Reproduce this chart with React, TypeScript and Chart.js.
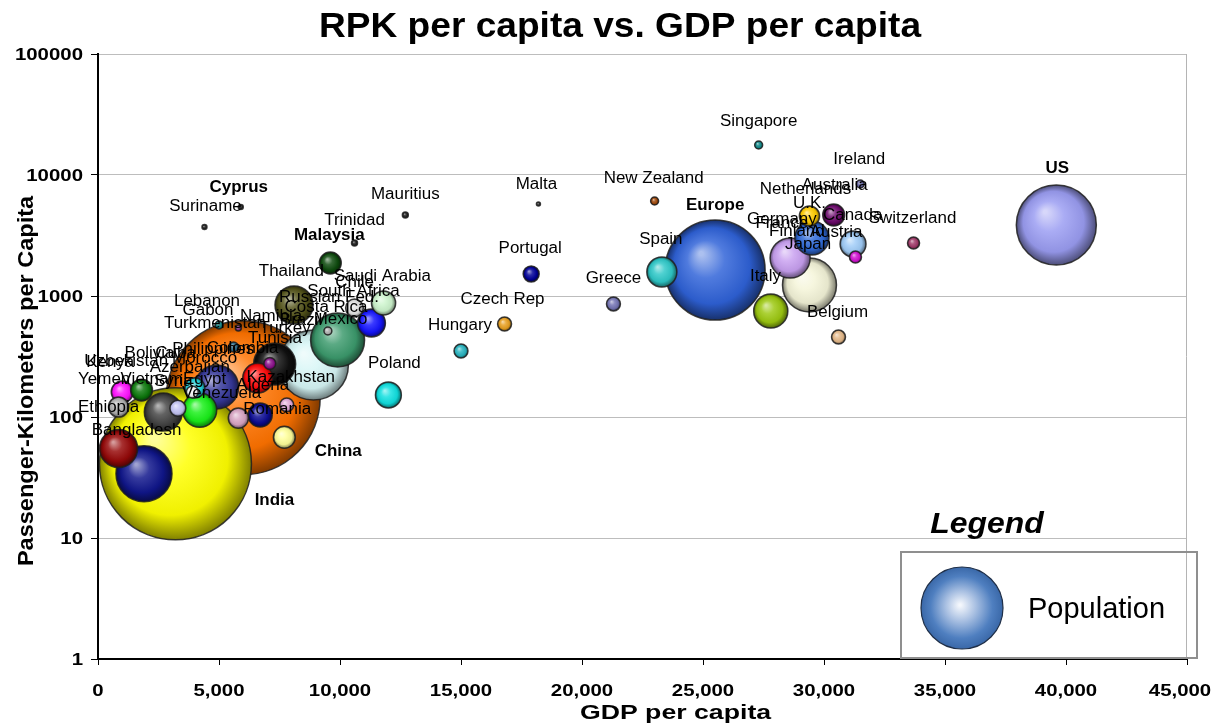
import React, { useEffect, useRef } from 'react';
import { Chart, registerables } from 'chart.js';

Chart.register(...registerables);

// Countries / regions, ordered from largest to smallest population so the
// small bubbles are drawn on top of the big ones.
const COUNTRIES = [
  'China', 'India', 'Europe', 'US', 'Iran', 'Pakistan', 'Mexico', 'Italy', 'Egypt', 'Colombia',
  'Japan', 'Bangladesh', 'Russian Fed.', 'Vietnam', 'Indonesia', 'Korea', 'Germany', 'Kazakhstan', 'Spain', 'Argentina',
  'Poland', 'Austria', 'Romania', 'South Africa', 'Malaysia', 'Yemen', 'Kenya', 'Canada', 'Ukraine', 'U.K.',
  'Peru', 'Morocco', 'Ethiopia', 'Chile', 'Syria', 'Portugal', 'Greece', 'Czech Rep', 'Hungary', 'Belgium',
  'Jordan', 'Sweden', 'Switzerland', 'Ecuador', 'Sri Lanka', 'Tunisia', 'New Zealand', 'Singapore', 'Ireland', 'Costa Rica',
  'Turkmenistan', 'Namibia', 'Mauritius', 'Trinidad', 'Cyprus', 'Suriname', 'Malta',
];

// GDP per capita (x)
const GDP_PER_CAPITA = [
  6000, 3200, 25500, 39600, 8900, 1900, 9900, 29400, 4900, 7300,
  28600, 850, 8100, 2700, 4200, 27800, 29500, 6600, 23300, 11300,
  12000, 31200, 6700, 11800, 9600, 1000, 1800, 30400, 7700, 29400,
  5800, 4000, 850, 10600, 3300, 17900, 21300, 16800, 15000, 30600,
  7800, 31300, 33700, 7100, 3900, 5600, 23000, 27300, 31500, 9500,
  5000, 5800, 12700, 10600, 5900, 4400, 18200,
];

// Passenger-kilometers per capita (y, log scale)
const RPK_PER_CAPITA = [
  144, 41, 1640, 3860, 269, 34, 433, 1233, 177, 274,
  2061, 55, 843, 110, 114, 752, 3016, 210, 1579, 598,
  152, 2691, 104, 875, 1875, 161, 167, 4670, 68, 4585,
  98, 174, 121, 796, 118, 1520, 860, 587, 351, 458,
  126, 2100, 2742, 277, 161, 379, 6097, 17700, 8430, 514,
  576, 544, 4670, 2742, 5446, 3718, 5757,
];

// Population in millions (bubble area)
const POPULATION_M = [
  1344, 1310, 567, 363, 278, 178, 165, 165, 110, 100,
  91, 82, 82, 82, 66, 66, 66, 51, 51, 44,
  38, 38, 33, 33, 27, 27, 27, 27, 27, 23,
  23, 23, 23, 18, 14.5, 14.5, 11, 11, 11, 11,
  11, 8.2, 8.2, 8.2, 8.2, 5.7, 3.6, 3.6, 3.6, 3.6,
  3.6, 2.0, 2.0, 2.0, 1.4, 1.4, 0.9,
];

// Fill colour of each bubble
const COLORS = [
  '#ff7300', '#ffff00', '#2f62d8', '#9a9cf2', '#d6f6f6', '#10168c', '#3c9a6c', '#f4f4d8', '#36389a', '#101010',
  '#c8a0f0', '#960808', '#54541a', '#444444', '#18f018', '#9cc810', '#2f6ad8', '#ff0a0a', '#2ec8c8', '#1414ff',
  '#10e0e0', '#a0ccf8', '#0c0c94', '#ccf4cc', '#0d4a0d', '#ff10ff', '#0c780c', '#6c0a6c', '#ffff99', '#ffcc00',
  '#d8a4c4', '#20d0d8', '#b0b0b0', '#e4e4e4', '#c4c4f4', '#000098', '#7474b4', '#e8a020', '#28b4c0', '#e4b888',
  '#e0a8d8', '#d010d0', '#a03868', '#8a108a', '#f4f4f4', '#2a6a88', '#a04808', '#108888', '#6868a8', '#b0b0b0',
  '#108080', '#803080', '#202020', '#202020', '#202020', '#202020', '#303030',
];

const X_TICKS = [0, 5000, 10000, 15000, 20000, 25000, 30000, 35000, 40000, 45000];
const Y_TICKS = [1, 10, 100, 1000, 10000, 100000];

// bubble radius in px = BUBBLE_SCALE * sqrt(population)
const BUBBLE_SCALE = 2.1;

// Data-label layout: [text, bubble it belongs to, dx, dy] (pixel offset from the bubble centre)
const LABEL_LAYOUT: [string, string, number, number][] = [
  ['Singapore', 'Singapore', 0, -23],
  ['Ireland', 'Ireland', -1, -24],
  ['Australia', 'Canada', 1, -29],
  ['Netherlands', 'U.K.', -4, -26],
  ['U.K.', 'U.K.', 0, -12],
  ['Canada', 'Canada', 19, 1],
  ['Switzerland', 'Switzerland', -1, -24],
  ['Germany', 'Germany', -30, -18],
  ['France', 'Germany', -30, -14],
  ['Finland', 'Germany', -15, -6],
  ['Austria', 'Austria', -17, -11],
  ['Japan', 'Japan', 18, -13],
  ['Italy', 'Italy', -44, -8],
  ['Belgium', 'Belgium', -1, -24],
  ['Europe', 'Europe', 0, -64],
  ['US', 'US', 1, -56],
  ['Spain', 'Spain', -1, -32],
  ['Greece', 'Greece', 0, -25],
  ['New Zealand', 'New Zealand', -1, -22],
  ['Malta', 'Malta', -2, -19],
  ['Portugal', 'Portugal', -1, -25],
  ['Czech Rep', 'Czech Rep', -2, -24],
  ['Hungary', 'Hungary', -1, -25],
  ['Poland', 'Poland', 6, -31],
  ['Mauritius', 'Mauritius', 0, -20],
  ['Trinidad', 'Trinidad', 0, -22],
  ['Malaysia', 'Malaysia', -1, -27],
  ['Cyprus', 'Cyprus', -2, -19],
  ['Suriname', 'Suriname', 1, -20],
  ['Thailand', 'Malaysia', -39, 9],
  ['Saudi Arabia', 'Malaysia', 52, 14],
  ['Chile', 'Chile', 0, -25],
  ['South Africa', 'South Africa', -30, -11],
  ['Russian Fed.', 'Russian Fed.', 35, -7],
  ['Costa Rica', 'Russian Fed.', 32, 3],
  ['Mexico', 'Mexico', 3, -20],
  ['Namibia', 'Russian Fed.', -23, 12],
  ['Brazil', 'Russian Fed.', 7, 16],
  ['Turkey', 'Russian Fed.', -9, 24],
  ['Tunisia', 'Russian Fed.', -19, 34],
  ['Colombia', 'Colombia', -32, -15],
  ['Philippines', 'China', -30, -48],
  ['Lebanon', 'Turkmenistan', -12, -23],
  ['Gabon', 'Turkmenistan', -11, -14],
  ['Turkmenistan', 'Turkmenistan', -4, -1],
  ['Kazakhstan', 'Kazakhstan', 33, 0],
  ['Algeria', 'Kazakhstan', 5, 8],
  ['Venezuela', 'Egypt', 5, 7],
  ['Romania', 'Romania', 17, -5],
  ['Morocco', 'Egypt', -12, -28],
  ['Bolivia', 'Kenya', 8, -36],
  ['Cuba', 'Kenya', 34, -36],
  ['Kenya', 'Yemen', -12, -29],
  ['Uzbekistan', 'Yemen', 4, -30],
  ['Azerbaijan', 'Morocco', -5, -20],
  ['Yemen', 'Yemen', -18, -12],
  ['Vietnam', 'Kenya', 10, -10],
  ['Syria', 'Vietnam', 10, -30],
  ['Egypt', 'Egypt', -12, -7],
  ['Ethiopia', 'Ethiopia', -10, 1],
  ['Bangladesh', 'Bangladesh', 18, -18],
  ['China', 'China', 95, 54],
  ['India', 'India', 99, 37],
];
const BOLD_LABELS = new Set(['Cyprus', 'Malaysia', 'Europe', 'US', 'China', 'India']);

const FONT = "'Liberation Sans', Arial, sans-serif";

type RGB = [number, number, number];
function hexToRgb(h: string): RGB {
  const n = parseInt(h.slice(1), 16);
  return [(n >> 16) & 255, (n >> 8) & 255, n & 255];
}
function mix(c: RGB, t: RGB, k: number): string {
  const r = Math.round(c[0] + (t[0] - c[0]) * k);
  const g = Math.round(c[1] + (t[1] - c[1]) * k);
  const b = Math.round(c[2] + (t[2] - c[2]) * k);
  return `rgb(${r},${g},${b})`;
}

// shaded "3-D ball" fill
function sphereGradient(ctx: CanvasRenderingContext2D, x: number, y: number, r: number, hex: string) {
  const c = hexToRgb(hex);
  const rr = Math.max(r, 0.5);
  const g = ctx.createRadialGradient(x - rr * 0.28, y - rr * 0.33, rr * 0.04, x, y, rr);
  g.addColorStop(0, mix(c, [255, 255, 255], 0.6));
  g.addColorStop(0.35, mix(c, [255, 255, 255], 0.16));
  g.addColorStop(0.75, mix(c, [0, 0, 0], 0.06));
  g.addColorStop(1, mix(c, [0, 0, 0], 0.5));
  return g;
}

function drawText(
  ctx: CanvasRenderingContext2D, text: string, x: number, y: number, font: string,
  align: CanvasTextAlign = 'center', sx = 1, baseline: CanvasTextBaseline = 'alphabetic', rot = 0,
) {
  ctx.save();
  ctx.translate(x, y);
  if (rot) ctx.rotate(rot);
  ctx.scale(sx, 1);
  ctx.font = font;
  ctx.textAlign = align;
  ctx.textBaseline = baseline;
  ctx.fillStyle = '#000';
  ctx.fillText(text, 0, 0);
  ctx.restore();
}

const decorations = {
  id: 'decorations',
  beforeDatasetsDraw(chart: any) {
    const { ctx, chartArea } = chart;
    ctx.save();
    ctx.strokeStyle = '#b4b4b4';
    ctx.lineWidth = 1;
    ctx.beginPath();
    ctx.moveTo(chartArea.right - 0.5, chartArea.top);
    ctx.lineTo(chartArea.right - 0.5, chartArea.bottom);
    ctx.stroke();
    ctx.restore();
  },
  afterDatasetsDraw(chart: any) {
    const { ctx } = chart;
    const meta = chart.getDatasetMeta(0);
    for (const [text, anchor, dx, dy] of LABEL_LAYOUT) {
      const el = meta.data[COUNTRIES.indexOf(anchor)];
      if (!el) continue;
      const bold = BOLD_LABELS.has(text);
      drawText(ctx, text, el.x + dx, el.y + dy, `${bold ? 'bold ' : ''}16px ${FONT}`, 'center', 1.06, 'middle');
    }
  },
  afterDraw(chart: any) {
    const { ctx, chartArea } = chart;
    const xs = chart.scales.x;
    const ys = chart.scales.y;

    // title
    drawText(ctx, 'RPK per capita vs. GDP per capita', 620, 37, `bold 35px ${FONT}`, 'center', 1.06);

    // tick labels (the last one is kept inside the canvas)
    for (const v of X_TICKS) {
      const px = Math.min(xs.getPixelForValue(v), chart.width - 38);
      drawText(ctx, v.toLocaleString('en-US'), px, 696, `bold 17px ${FONT}`, 'center', 1.2);
    }
    for (const v of Y_TICKS) {
      drawText(ctx, String(v), 83, ys.getPixelForValue(v) + 6, `bold 17px ${FONT}`, 'right', 1.2);
    }

    // axis titles
    drawText(ctx, 'GDP per capita', (chartArea.left + chartArea.right) / 2 + 33, 719, `bold 21px ${FONT}`, 'center', 1.27);
    drawText(ctx, 'Passenger-Kilometers per Capita', 33, 381, `bold 22px ${FONT}`, 'center', 1.07, 'alphabetic', -Math.PI / 2);

    // legend
    drawText(ctx, 'Legend', 987, 533, `italic bold 29px ${FONT}`, 'center', 1.1);
    ctx.save();
    ctx.strokeStyle = '#8f8f8f';
    ctx.lineWidth = 2;
    ctx.strokeRect(901, 552, 296, 106);
    const lx = 962, ly = 608, lr = 41;
    const g = ctx.createRadialGradient(lx - 2, ly - 3, 1, lx, ly, lr);
    g.addColorStop(0, '#f4f7fc');
    g.addColorStop(0.35, '#a9c0e2');
    g.addColorStop(0.75, '#4f7fc0');
    g.addColorStop(1, '#3a68a8');
    ctx.beginPath();
    ctx.arc(lx, ly, lr, 0, Math.PI * 2);
    ctx.fillStyle = g;
    ctx.fill();
    ctx.strokeStyle = '#1f2f48';
    ctx.lineWidth = 1.2;
    ctx.stroke();
    ctx.restore();
    drawText(ctx, 'Population', 1028, 618, `29px ${FONT}`, 'left');
  },
};

export default function App() {
  const canvasRef = useRef<HTMLCanvasElement | null>(null);

  useEffect(() => {
    const canvas = canvasRef.current;
    if (!canvas) return;

    const data = COUNTRIES.map((_, i) => ({
      x: GDP_PER_CAPITA[i],
      y: RPK_PER_CAPITA[i],
      r: BUBBLE_SCALE * Math.sqrt(POPULATION_M[i]),
    }));

    const chart = new Chart(canvas, {
      type: 'bubble',
      data: {
        datasets: [
          {
            label: 'Population',
            data,
            clip: false as any,
            backgroundColor: (c: any) => {
              const i = c.dataIndex ?? 0;
              const base = COLORS[i] || '#888888';
              const chartRef = c.chart;
              if (c.type !== 'data' || !chartRef.scales?.x || !chartRef.scales?.y || !c.raw) return base;
              const raw = c.raw;
              const px = chartRef.scales.x.getPixelForValue(raw.x);
              const py = chartRef.scales.y.getPixelForValue(raw.y);
              if (!Number.isFinite(px) || !Number.isFinite(py) || !Number.isFinite(raw.r)) return base;
              return sphereGradient(chartRef.ctx, px, py, raw.r, base);
            },
            borderColor: 'rgba(30,30,30,0.85)',
            borderWidth: 1.5,
          },
        ],
      },
      options: {
        animation: false,
        responsive: false,
        events: [],
        layout: { autoPadding: false, padding: { top: 54, right: 31, left: 0, bottom: 0 } },
        plugins: {
          legend: { display: false },
          tooltip: { enabled: false },
          title: { display: false },
        },
        scales: {
          x: {
            type: 'linear',
            min: 0,
            max: 45000,
            afterBuildTicks: (s: any) => {
              s.ticks = X_TICKS.map((value) => ({ value }));
            },
            afterFit: (s: any) => {
              s.height = 65;
            },
            ticks: { display: false },
            grid: { drawOnChartArea: false, drawTicks: true, tickLength: 6, color: '#000', lineWidth: 1 },
            border: { color: '#000', width: 2 },
          },
          y: {
            type: 'logarithmic',
            min: 1,
            max: 100000,
            afterBuildTicks: (s: any) => {
              s.ticks = Y_TICKS.map((value) => ({ value }));
            },
            afterFit: (s: any) => {
              s.width = 98;
            },
            ticks: { display: false },
            grid: { color: '#bdbdbd', lineWidth: 1, drawTicks: true, tickLength: 7, tickColor: '#000' },
            border: { color: '#000', width: 2 },
          },
        },
      },
      plugins: [decorations],
    });

    return () => chart.destroy();
  }, []);

  return (
    <div style={{ position: 'fixed', left: 0, top: 0, width: 1218, height: 724, background: '#fff' }}>
      <canvas ref={canvasRef} width={1218} height={724} style={{ display: 'block' }} />
    </div>
  );
}
